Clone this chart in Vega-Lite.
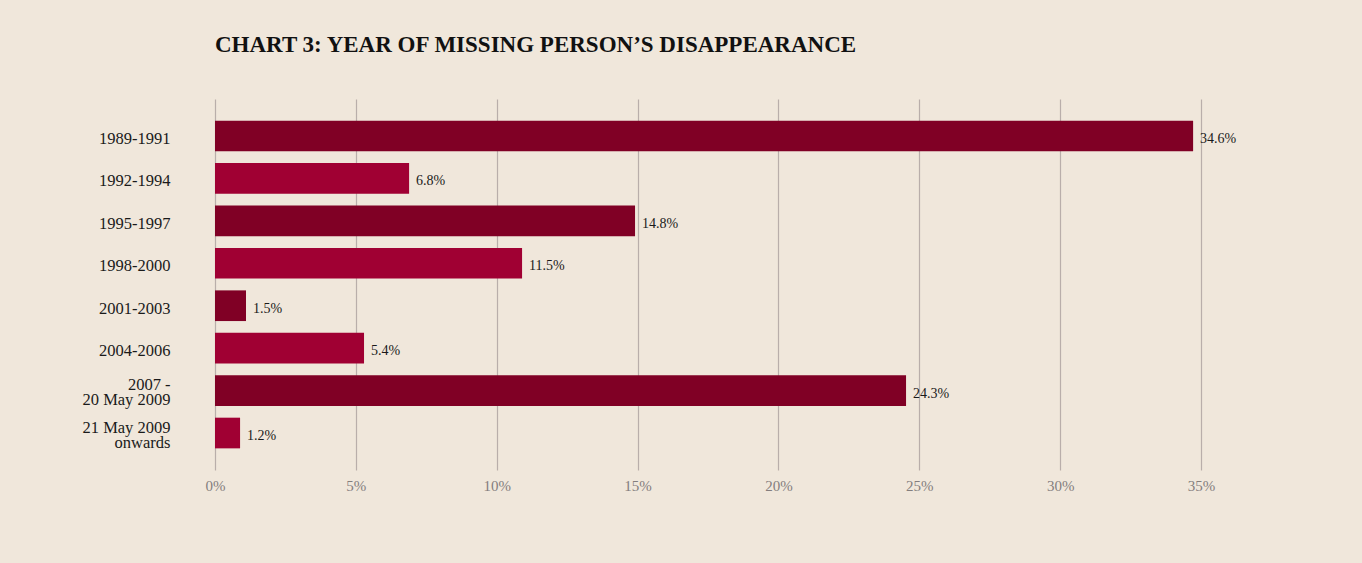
{
  "$schema": "https://vega.github.io/schema/vega-lite/v6.json",
  "width": 986,
  "height": 371,
  "autosize": {"type": "none"},
  "padding": {"left": 215, "top": 99, "right": 161, "bottom": 93},
  "background": "#f0e7db",
  "title": {
    "text": "CHART 3: YEAR OF MISSING PERSON’S DISAPPEARANCE",
    "anchor": "start",
    "frame": "group",
    "font": "Liberation Serif",
    "fontSize": 23,
    "fontWeight": "bold",
    "color": "#111111",
    "offset": 42
  },
  "data": {
    "values": [
      {"period": "1989-1991", "pct": 34.72, "label": "34.6%", "shade": "dark"},
      {"period": "1992-1994", "pct": 6.89, "label": "6.8%", "shade": "light"},
      {"period": "1995-1997", "pct": 14.91, "label": "14.8%", "shade": "dark"},
      {"period": "1998-2000", "pct": 10.9, "label": "11.5%", "shade": "light"},
      {"period": "2001-2003", "pct": 1.1, "label": "1.5%", "shade": "dark"},
      {"period": "2004-2006", "pct": 5.29, "label": "5.4%", "shade": "light"},
      {"period": "2007 -|20 May 2009", "pct": 24.53, "label": "24.3%", "shade": "dark"},
      {"period": "21 May 2009\u00a0|onwards", "pct": 0.89, "label": "1.2%", "shade": "light"}
    ]
  },
  "encoding": {
    "y": {
      "field": "period",
      "type": "nominal",
      "sort": null,
      "scale": {"paddingInner": 0.277, "paddingOuter": 0.51},
      "axis": {
        "title": null,
        "domain": false,
        "ticks": false,
        "grid": false,
        "labelPadding": 45,
        "labelFont": "Liberation Serif",
        "labelFontSize": 16.5,
        "labelColor": "#1a1a1a",
        "labelLineHeight": 15,
        "labelOffset": {"condition": {"test": "indexof(datum.value, '|') >= 0", "value": -5.5}, "value": 3},
        "labelExpr": "split(datum.label, '|')"
      }
    }
  },
  "layer": [
    {
      "mark": {"type": "bar"},
      "encoding": {
        "x": {
          "field": "pct",
          "type": "quantitative",
          "scale": {"domain": [0, 35], "nice": false},
          "axis": {
            "title": null,
            "values": [0, 5, 10, 15, 20, 25, 30, 35],
            "labelExpr": "datum.value + '%'",
            "labelFlush": false,
            "domain": false,
            "ticks": false,
            "grid": true,
            "gridColor": "#b9aeaa",
            "gridWidth": 1.2,
            "labelPadding": 8,
            "labelFont": "Liberation Serif",
            "labelFontSize": 15,
            "labelColor": "#847e7e"
          }
        },
        "color": {
          "field": "shade",
          "type": "nominal",
          "scale": {"domain": ["dark", "light"], "range": ["#800025", "#a00033"]},
          "legend": null
        }
      }
    },
    {
      "mark": {"type": "text", "align": "left", "dx": 7, "dy": 3, "font": "Liberation Serif", "fontSize": 14, "color": "#1a1a1a"},
      "encoding": {
        "x": {"field": "pct", "type": "quantitative"},
        "text": {"field": "label"}
      }
    }
  ],
  "config": {
    "view": {"stroke": null}
  }
}
